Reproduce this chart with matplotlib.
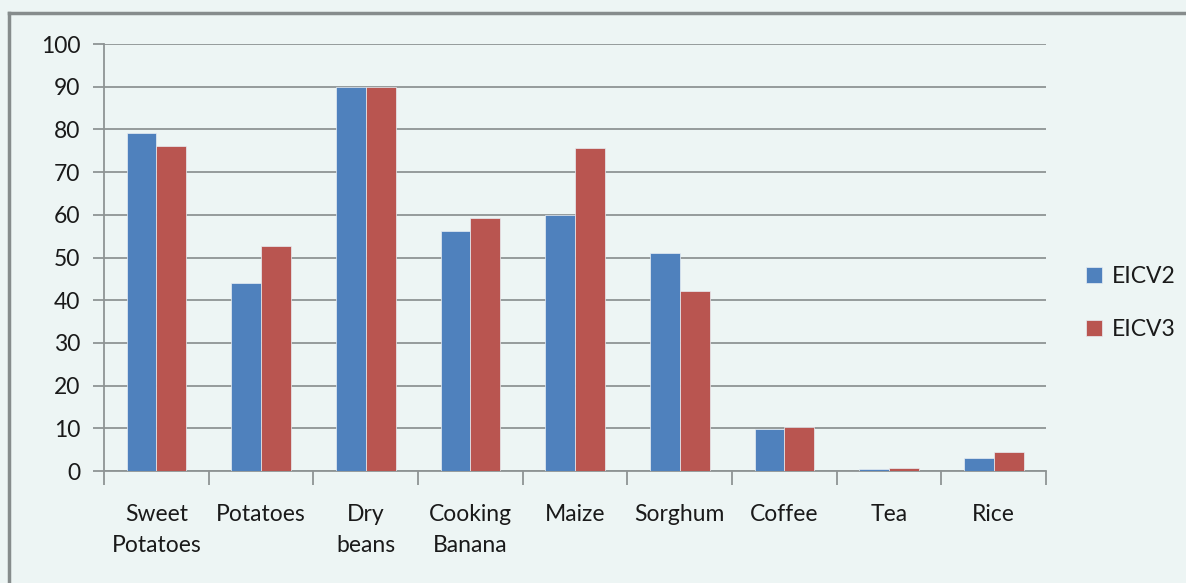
import matplotlib.pyplot as plt
from matplotlib.lines import Line2D
import numpy as np

categories = ["Sweet\nPotatoes", "Potatoes", "Dry\nbeans", "Cooking\nBanana",
              "Maize", "Sorghum", "Coffee", "Tea", "Rice"]
eicv2 = [79.1, 44.0, 90.0, 56.2, 60.0, 51.1, 9.9, 0.4, 3.1]
eicv3 = [76.1, 52.7, 90.0, 59.2, 75.6, 42.2, 10.3, 0.8, 4.4]
series_names = ["EICV2", "EICV3"]
colors = ["#4F81BD", "#B95550"]

bg = "#EDF5F4"
grid_color = "#8E9494"
plt.rcParams["font.family"] = ["Lato", "DejaVu Sans"]

fig = plt.figure(figsize=(11.86, 5.83), dpi=100, facecolor=bg)
ax = fig.add_axes([0.0877, 0.1921, 0.7943, 0.7324], facecolor=bg)

x = np.arange(len(categories))
width = 0.285
for offset, vals, name, c in zip([-width / 2, width / 2], [eicv2, eicv3], series_names, colors):
    ax.bar(x + offset, vals, width, color=c, edgecolor="#E8EEF4", linewidth=0.5,
           label=name, zorder=3)

ax.set_xlim(-0.5, len(categories) - 0.5)
ax.set_ylim(0, 100)
ax.set_yticks(range(0, 101, 10))
ax.yaxis.grid(True, color=grid_color, linewidth=1.3, zorder=0)

# category labels centered, tick marks on the boundaries between groups
ax.set_xticks(x)
ax.set_xticklabels(categories, fontsize=16.5, linespacing=1.55, va="top")
ax.tick_params(axis="x", length=0, pad=24, colors="#1A1A1A")
ax.set_xticks(np.arange(-0.5, len(categories)), minor=True)
ax.tick_params(axis="x", which="minor", length=10, width=1.3, color=grid_color)
ax.tick_params(axis="y", length=8, width=1.3, color=grid_color, labelsize=16.5, pad=9,
               labelcolor="#1A1A1A")

for side in ["top", "right"]:
    ax.spines[side].set_visible(False)
for side in ["left", "bottom"]:
    ax.spines[side].set_color(grid_color)
    ax.spines[side].set_linewidth(1.3)

ax.legend(loc="center left", bbox_to_anchor=(1.02, 0.393), frameon=False,
          fontsize=16.5, handlelength=0.7, handleheight=0.7, labelspacing=1.4,
          handletextpad=0.45, labelcolor="#1A1A1A")

# outer chart frame
fig.add_artist(Line2D([9 / 1186, 9 / 1186], [0, 1 - 13 / 583], transform=fig.transFigure,
                      color="#868C8C", linewidth=2.5))
fig.add_artist(Line2D([9 / 1186, 1], [1 - 13 / 583, 1 - 13 / 583], transform=fig.transFigure,
                      color="#868C8C", linewidth=2.5))

fig.savefig("out.png", dpi=100, facecolor=bg)
